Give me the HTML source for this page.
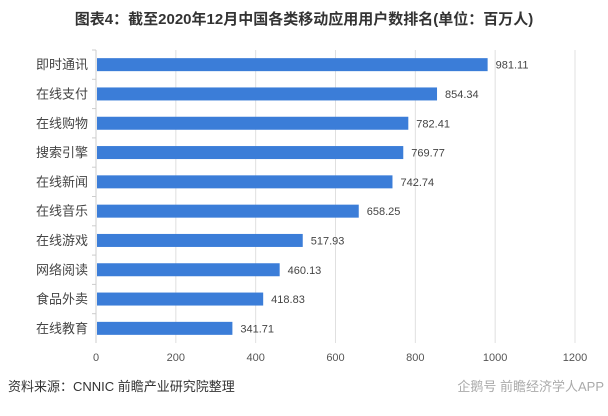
<!DOCTYPE html>
<html><head><meta charset="utf-8"><style>
body{margin:0;background:#fff;}
svg text{font-family:"Liberation Sans","Noto Sans CJK SC",sans-serif;}
</style></head><body>
<svg width="608" height="411" viewBox="0 0 608 411" xmlns="http://www.w3.org/2000/svg">
<text x="304" y="24" text-anchor="middle" font-size="15" font-weight="bold" fill="#333">图表4：截至2020年12月中国各类移动应用用户数排名(单位：百万人)</text>
<g id="grid"></g><g id="bars"></g><g id="axis"></g>
<text x="8" y="391" font-size="13" fill="#333">资料来源：CNNIC 前瞻产业研究院整理</text>
<text x="604" y="391" text-anchor="end" font-size="13" fill="#aaa">企鹅号 前瞻经济学人APP</text>
</svg>
<script>
const categories=["即时通讯","在线支付","在线购物","搜索引擎","在线新闻","在线音乐","在线游戏","网络阅读","食品外卖","在线教育"];
const values=[981.11,854.34,782.41,769.77,742.74,658.25,517.93,460.13,418.83,341.71];
const ticks=[0,200,400,600,800,1000,1200];
const NS="http://www.w3.org/2000/svg";
const x0=96,x1=575,yTop=50,yBot=343;
const xs=v=>x0+(v/1200)*(x1-x0);
const step=(yBot-yTop)/categories.length;
const yc=i=>yTop+step*(i+0.5);
function mk(t,a,p){const e=document.createElementNS(NS,t);for(const k in a)e.setAttribute(k,a[k]);p.appendChild(e);return e;}
const g=document.getElementById('grid'),b=document.getElementById('bars'),ax=document.getElementById('axis');
ticks.forEach(t=>{
 if(t>0){const l=mk('line',{x1:xs(t),x2:xs(t),y1:yTop,y2:yBot,stroke:'#e0e0e0'},g);
 
 }
 const tx=mk('text',{x:xs(t),y:361,'text-anchor':'middle','font-size':11,fill:'#555'},ax);tx.textContent=t;
 
 
});
const al=mk('line',{x1:x0,x2:x0,y1:yTop,y2:yBot,stroke:'#ccc'},ax);


categories.forEach((c,i)=>{
 const y=yc(i);
 const r=mk('rect',{x:x0+1,y:y-6.5,width:xs(values[i])-x0-1,height:13,fill:'#3b7dd8'},b);
 
 
 const lb=mk('text',{x:xs(values[i])+8,y:y+4,'font-size':11,fill:'#444'},b);lb.textContent=values[i].toFixed(2);
 
 
 const cl=mk('text',{x:x0-8,y:y+4.5,'text-anchor':'end','font-size':13,fill:'#444'},ax);cl.textContent=c;
 
 
 const tk=mk('line',{x1:x0-4,x2:x0,y1:yTop+step*i,y2:yTop+step*i,stroke:'#ccc'},ax);
 
 
});
</script>
</body></html>
